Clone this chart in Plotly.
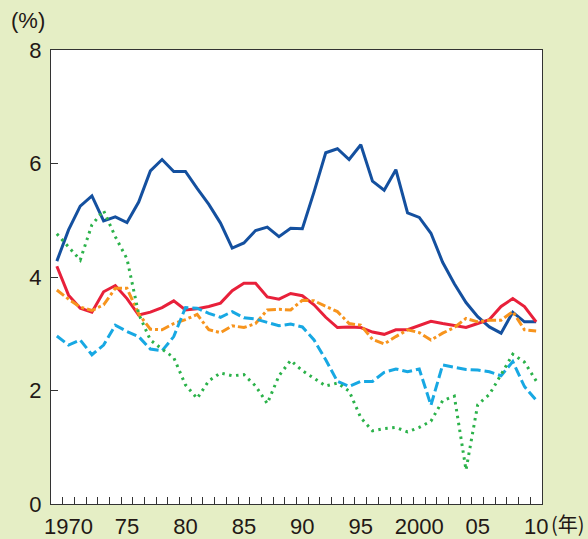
import plotly.graph_objects as go

years = list(range(1969, 2011))

blue = [4.28, 4.83, 5.25, 5.43, 4.99, 5.06, 4.96, 5.32, 5.87, 6.07,
        5.86, 5.86, 5.56, 5.28, 4.95, 4.51, 4.60, 4.82, 4.88, 4.71,
        4.86, 4.85, 5.50, 6.19, 6.26, 6.07, 6.33, 5.69, 5.53, 5.89,
        5.13, 5.05, 4.77, 4.26, 3.88, 3.55, 3.30, 3.12, 3.01, 3.38,
        3.21, 3.21]
red = [4.19, 3.68, 3.45, 3.38, 3.74, 3.85, 3.62, 3.33, 3.38, 3.46,
       3.58, 3.42, 3.44, 3.48, 3.54, 3.76, 3.89, 3.89, 3.65, 3.61,
       3.71, 3.67, 3.51, 3.29, 3.11, 3.12, 3.11, 3.03, 2.99, 3.07,
       3.07, 3.14, 3.22, 3.18, 3.14, 3.11, 3.18, 3.25, 3.48, 3.62,
       3.48, 3.21]
orange = [3.77, 3.61, 3.47, 3.41, 3.51, 3.80, 3.80, 3.35, 3.08, 3.07,
          3.18, 3.25, 3.34, 3.07, 3.02, 3.14, 3.11, 3.18, 3.42, 3.43,
          3.42, 3.59, 3.58, 3.48, 3.39, 3.18, 3.15, 2.90, 2.82, 2.95,
          3.07, 3.02, 2.89, 3.01, 3.11, 3.27, 3.21, 3.24, 3.24, 3.39,
          3.07, 3.05]
cyan = [2.96, 2.80, 2.89, 2.63, 2.80, 3.15, 3.04, 2.95, 2.73, 2.70,
        2.95, 3.46, 3.45, 3.36, 3.29, 3.39, 3.28, 3.26, 3.20, 3.14,
        3.17, 3.12, 2.89, 2.54, 2.16, 2.07, 2.16, 2.16, 2.32, 2.38,
        2.33, 2.38, 1.74, 2.45, 2.41, 2.37, 2.36, 2.33, 2.26, 2.51,
        2.07, 1.83]
green = [4.76, 4.53, 4.30, 4.92, 5.17, 4.71, 4.32, 3.35, 2.89, 2.73,
         2.58, 2.10, 1.86, 2.17, 2.31, 2.26, 2.28, 2.08, 1.77, 2.26,
         2.53, 2.35, 2.21, 2.08, 2.13, 1.99, 1.52, 1.29, 1.33, 1.35,
         1.27, 1.35, 1.46, 1.82, 1.90, 0.60, 1.75, 1.93, 2.28, 2.64,
         2.50, 2.17]

label_years = [1970, 1975, 1980, 1985, 1990, 1995, 2000, 2005, 2010]
label_text = ["1970", "75", "80", "85", "90", "95", "2000", "05", "10"]
y_ticks = [0, 2, 4, 6, 8]

series = [
    (blue, "#14509f", "solid", 3),
    (red, "#e8203a", "solid", 3),
    (orange, "#f7941d", "dashdot", 3),
    (cyan, "#17a8e3", "10px,4px", 3),
    (green, "#2bb24a", "2.5px,4.5px", 3),
]

fig = go.Figure()
for vals, color, dash, w in series:
    fig.add_trace(go.Scatter(x=years, y=vals, mode="lines",
                             line=dict(color=color, width=w, dash=dash),
                             showlegend=False, hoverinfo="skip"))
# empty trace so that the label axis is drawn
fig.add_trace(go.Scatter(x=[], y=[], xaxis="x2", yaxis="y",
                         showlegend=False, hoverinfo="skip"))

font = dict(family="Liberation Sans, Arial, sans-serif", size=22, color="#231815")

fig.update_layout(
    width=588, height=539,
    paper_bgcolor="#e5eec5",
    plot_bgcolor="#ffffff",
    margin=dict(l=51, r=46, t=50, b=35),
    showlegend=False,
    xaxis=dict(
        range=[1968.5, 2010.5], tickmode="linear", tick0=1969.5, dtick=1,
        ticks="inside", ticklen=7, tickwidth=1, tickcolor="#333",
        showticklabels=False, showgrid=False, zeroline=False, automargin=False,
        showline=True, linecolor="#333", linewidth=1.3, mirror=True,
    ),
    xaxis2=dict(
        overlaying="x", anchor="y", side="bottom",
        range=[1968.5, 2010.5], tickmode="array",
        tickvals=label_years, ticktext=label_text,
        ticks="", showgrid=False, zeroline=False, showline=False,
        tickfont=font, ticklabelstandoff=7, automargin=False,
    ),
    yaxis=dict(
        range=[0, 8], tickmode="array", tickvals=y_ticks,
        ticks="inside", ticklen=7, tickwidth=1, tickcolor="#333",
        tickfont=font, ticklabelstandoff=4, automargin=False,
        showgrid=False, zeroline=False,
        showline=True, linecolor="#333", linewidth=1.3, mirror=True,
    ),
    annotations=[
        dict(text="(%)", xref="paper", yref="paper", x=-0.046, y=1.064,
             xanchor="center", yanchor="middle", showarrow=False,
             font=dict(family="Liberation Sans, Arial, sans-serif", size=22, color="#231815")),
        dict(text="(年)", xref="paper", yref="paper", x=1.014, y=-0.044,
             xanchor="left", yanchor="middle", showarrow=False,
             font=dict(family="Noto Sans CJK JP, sans-serif", size=20, color="#231815")),
    ],
)

fig.write_html("out.html", config={"displayModeBar": False},
               post_script="document.body.style.margin='0';")
